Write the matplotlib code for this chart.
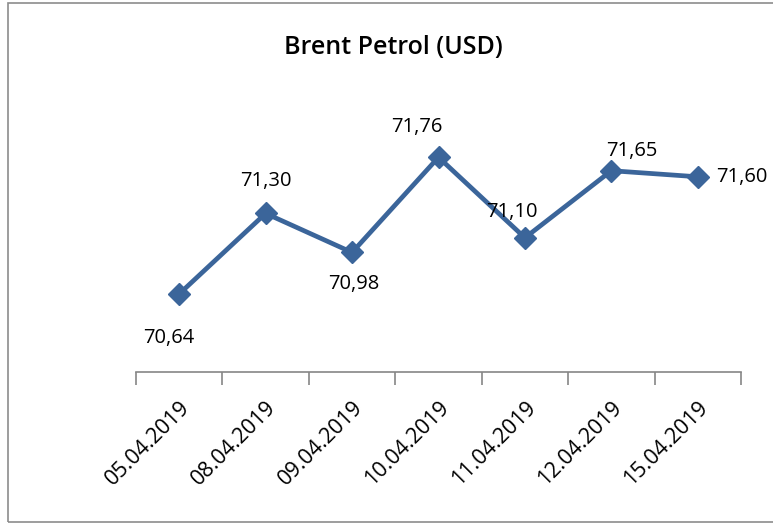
import matplotlib
matplotlib.use('Agg')
import matplotlib.pyplot as plt
from matplotlib.patches import Rectangle

# Chart data
dates = ["05.04.2019", "08.04.2019", "09.04.2019", "10.04.2019",
         "11.04.2019", "12.04.2019", "15.04.2019"]
prices = [70.64, 71.30, 70.98, 71.76, 71.10, 71.65, 71.60]
labels = ["70,64", "71,30", "70,98", "71,76", "71,10", "71,65", "71,60"]
# label offsets in pixels (dx, dy)
offsets = [(-10, -44), (0, 32), (2, -32), (-22, 30), (-13, 26), (20, 20), (44, 0)]

plt.rcParams['font.family'] = ['Open Sans', 'DejaVu Sans']
color = '#3B659A'

fig = plt.figure(figsize=(7.73, 5.25), dpi=100)
ax = fig.add_axes([136 / 773, 1 - 372 / 525, (741 - 136) / 773, (372 - 128) / 525])

# outer border of the chart area
fig.patches.append(Rectangle((8 / 773, 3 / 525), 1.2, 519 / 525, transform=fig.transFigure,
                             fill=False, edgecolor='#8c8c8c', linewidth=1.2))

x = list(range(len(dates)))
ax.plot(x, prices, color=color, linewidth=3.4, marker='D', markersize=11, zorder=3)

for xi, yi, lab, (dx, dy) in zip(x, prices, labels, offsets):
    ax.annotate(lab, (xi, yi), xytext=(dx, dy), textcoords='offset pixels',
                ha='center', va='center', fontsize=14.5, color='black')

ax.set_xlim(-0.5, len(dates) - 0.5)
ax.set_ylim(70.0, 72.0)

for s in ['top', 'right', 'left']:
    ax.spines[s].set_visible(False)
ax.spines['bottom'].set_color('#868686')
ax.spines['bottom'].set_linewidth(1.2)

ax.set_yticks([])
ax.set_xticks([i - 0.5 for i in range(len(dates) + 1)])
ax.set_xticklabels([])
ax.tick_params(axis='x', which='major', length=9, color='#868686', width=1.2)
ax.set_xticks(x, minor=True)
ax.set_xticklabels(dates, minor=True, rotation=45, ha='right', rotation_mode='anchor',
                   fontsize=15.5)
ax.tick_params(axis='x', which='minor', length=0, pad=18)

fig.text(393 / 773, 1 - 47 / 525, "Brent Petrol (USD)", ha='center', va='center',
         fontsize=18, fontweight='semibold')

plt.savefig('out.png', dpi=100)
